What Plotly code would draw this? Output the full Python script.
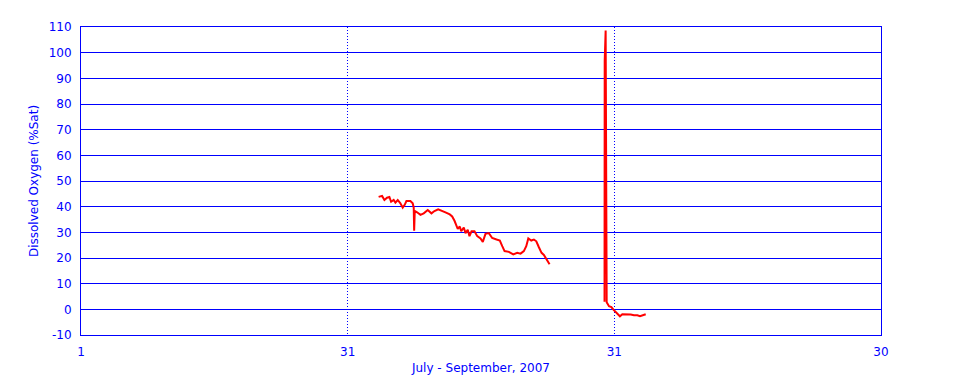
import plotly.graph_objects as go

# Days since 2007-07-01 00:00 and dissolved oxygen (%Sat)
day_1 = [33.60, 34.00, 34.27, 34.58, 34.85, 35.05, 35.35, 35.55, 35.82, 36.13,
         36.40, 36.63, 36.83, 37.29, 37.56, 37.68, 37.73, 37.80, 38.07, 38.46,
         38.84, 39.31, 39.74, 40.09, 40.52, 40.98, 41.37, 41.87, 42.15, 42.42,
         42.61, 42.80, 43.03, 43.20, 43.50, 43.70, 43.96, 44.16, 44.40, 44.74,
         45.06, 45.44, 45.71, 46.02, 46.41, 46.80, 47.31, 47.69, 47.97, 48.24,
         48.74, 49.25, 49.71, 50.10, 50.48, 50.76, 51.00, 51.34, 51.65, 51.93,
         52.23, 52.54, 52.81, 53.09, 53.47]
do_1 = [43.8, 44.2, 42.6, 43.5, 43.8, 41.9, 42.6, 41.6, 42.6, 41.3,
        39.6, 40.7, 42.2, 42.2, 41.3, 39.6, 30.6, 38.3, 37.8, 36.8,
        37.4, 38.7, 37.4, 38.3, 39.0, 38.5, 37.8, 37.0, 36.2, 34.5,
        33.0, 31.3, 32.3, 30.4, 31.9, 29.7, 31.0, 28.5, 30.4, 30.4,
        28.5, 27.6, 26.3, 29.4, 29.7, 27.8, 27.2, 26.8, 24.6, 22.7,
        22.4, 21.4, 22.0, 21.7, 22.7, 24.6, 27.6, 26.8, 27.2, 26.5,
        24.2, 22.0, 21.2, 19.5, 17.6]

day_2 = [59.86, 59.88, 59.99, 60.05, 60.11, 60.38, 60.66, 60.89, 61.15, 61.41,
         61.63, 61.90, 62.28, 62.84, 63.21, 63.59, 63.89, 64.16, 64.53]
do_2 = [3.0, 96.7, 108.6, 3.5, 2.8, 1.2, 0.9, -0.1, -1.0, -1.6,
        -2.7, -1.9, -1.9, -2.0, -2.3, -2.3, -2.7, -2.3, -1.9]

tick_days = [0, 30, 61, 91]
tick_text = ["1", "31", "31", "30"]
month_len = [30, 31, 30]
y_ticks = list(range(-10, 111, 10))
y_text = [str(v) for v in y_ticks]


def to_month_units(d):
    # each month occupies one equal unit on the axis
    start = 0
    for i, n in enumerate(month_len):
        if d <= start + n or i == len(month_len) - 1:
            return i + (d - start) / n
        start += n


fig = go.Figure()
for days, vals in ((day_1, do_1), (day_2, do_2)):
    fig.add_trace(go.Scatter(
        x=[to_month_units(d) for d in days], y=vals, mode="lines",
        line=dict(color="#ff0000", width=2), showlegend=False))

font = dict(family="DejaVu Sans, Liberation Sans, sans-serif", size=12, color="#0000ff")

# the page body adds an 8px offset, so margins are reduced on top/left
fig.update_layout(
    width=960, height=384,
    margin=dict(l=73, r=87, t=15, b=57),
    paper_bgcolor="white", plot_bgcolor="white",
    font=font,
    xaxis=dict(
        range=[0, 3], tickvals=[to_month_units(d) for d in tick_days], ticktext=tick_text,
        showgrid=True, gridcolor="#0000ff", griddash="1px,2px", gridwidth=1,
        showline=True, linecolor="#0000ff", linewidth=1, mirror=True,
        zeroline=False, ticks="", ticklabelstandoff=6,
        title=dict(text="July - September, 2007", font=font, standoff=5),
    ),
    yaxis=dict(
        range=[-10, 110], tickvals=y_ticks, ticktext=y_text,
        showgrid=True, gridcolor="#0000ff", gridwidth=1,
        showline=True, linecolor="#0000ff", linewidth=1, mirror=True,
        zeroline=False, ticks="", ticklabelstandoff=6,
        title=dict(text="Dissolved Oxygen (%Sat)", font=font, standoff=7),
    ),
)

fig.write_html("out.html")
